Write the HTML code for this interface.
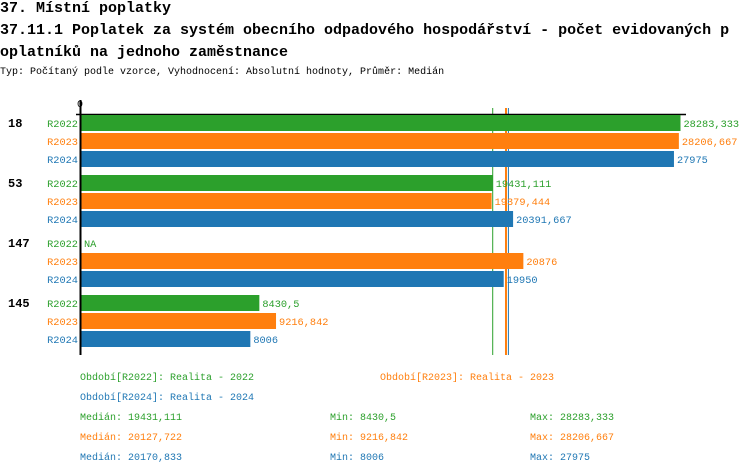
<!DOCTYPE html>
<html><head><meta charset="utf-8"><style>
body{margin:0;background:#fff;width:750px;height:474px;overflow:hidden;font-family:"Liberation Mono",monospace;}
.t{position:absolute;left:0;white-space:nowrap;color:#000}
</style></head><body>
<div class="t" style="top:0;font-size:15px;font-weight:bold;">37. Místní poplatky</div>
<div class="t" style="top:20px;font-size:15px;font-weight:bold;line-height:22px;">37.11.1 Poplatek za systém obecního odpadového hospodářství - počet evidovaných p<br>oplatníků na jednoho zaměstnance</div>
<div class="t" style="top:67px;font-size:10px;">Typ: Počítaný podle vzorce, Vyhodnocení: Absolutní hodnoty, Průměr: Medián</div>
<svg id="c" width="750" height="474" style="position:absolute;left:0;top:0" font-family="Liberation Mono, monospace" font-size="10.3"></svg>
<script>
const groups=["18","53","147","145"];
const series=["R2022","R2023","R2024"];
const colors=["#2ca02c","#ff7f0e","#1f77b4"];
const v2022=[28283.333,19431.111,null,8430.5];
const v2023=[28206.667,19379.444,20876,9216.842];
const v2024=[27975,20391.667,19950,8006];
const medians=[19431.111,20127.722,20170.833];
const mins=[8430.5,9216.842,8006];
const maxs=[28283.333,28206.667,27975];
const vals=[v2022,v2023,v2024];
const x0=80.5,k=600/28283.333;
const X=v=>x0+v*k;
const svg=document.getElementById('c');
const NS="http://www.w3.org/2000/svg";
function mk(t,a,txt){const e=document.createElementNS(NS,t);for(const n in a)e.setAttribute(n,a[n]);if(txt!=null)e.textContent=txt;svg.appendChild(e);return e;}
const fmt=v=>String(v).replace('.',',');
let e;
[0,2,1].forEach(i=>{
  const m=medians[i];
  e=mk('line',{x1:X(m)-(i==1?1.5:0),x2:X(m)-(i==1?1.5:0),y1:108,y2:355,stroke:colors[i],'stroke-width':i==1?2:1});
  
  
});
e=mk('line',{x1:80.5,x2:80.5,y1:100,y2:355,stroke:'#000','stroke-width':2});


e=mk('line',{x1:76,x2:686,y1:114.5,y2:114.5,stroke:'#000','stroke-width':1.5});


e=mk('text',{x:80,y:107,'text-anchor':'middle','font-size':10},'0');


groups.forEach((g,gi)=>{
  const gy=114+gi*60;
  e=mk('text',{x:8,y:gy+13,'font-weight':'bold','font-size':12},g);
  
  
  series.forEach((s,si)=>{
    const y=gy+1+si*18,v=vals[si][gi];
    e=mk('text',{x:78,y:y+12,'text-anchor':'end',fill:colors[si]},s);
    
    
    if(v==null){
      e=mk('text',{x:84,y:y+12,fill:colors[si]},'NA');
      
      
      return;
    }
    e=mk('rect',{x:81.5,y:y,width:X(v)-81.5,height:16,fill:colors[si]});
    
    
    e=mk('text',{x:X(v)+3,y:y+12,fill:colors[si]},fmt(v));
    
    
  });
});
const leg=[["Období[R2022]: Realita - 2022",80,380],["Období[R2023]: Realita - 2023",380,380],["Období[R2024]: Realita - 2024",80,400]];
leg.forEach((l,i)=>{
  e=mk('text',{x:l[1],y:l[2],fill:colors[i],'font-size':10},l[0]);
  
  
});
series.forEach((s,i)=>{
  const y=420+i*20;
  e=mk('text',{x:80,y:y,fill:colors[i],'font-size':10},'Medián: '+fmt(medians[i]));
  
  
  e=mk('text',{x:330,y:y,fill:colors[i],'font-size':10},'Min: '+fmt(mins[i]));
  
  
  e=mk('text',{x:530,y:y,fill:colors[i],'font-size':10},'Max: '+fmt(maxs[i]));
  
  
});
</script>
</body></html>
